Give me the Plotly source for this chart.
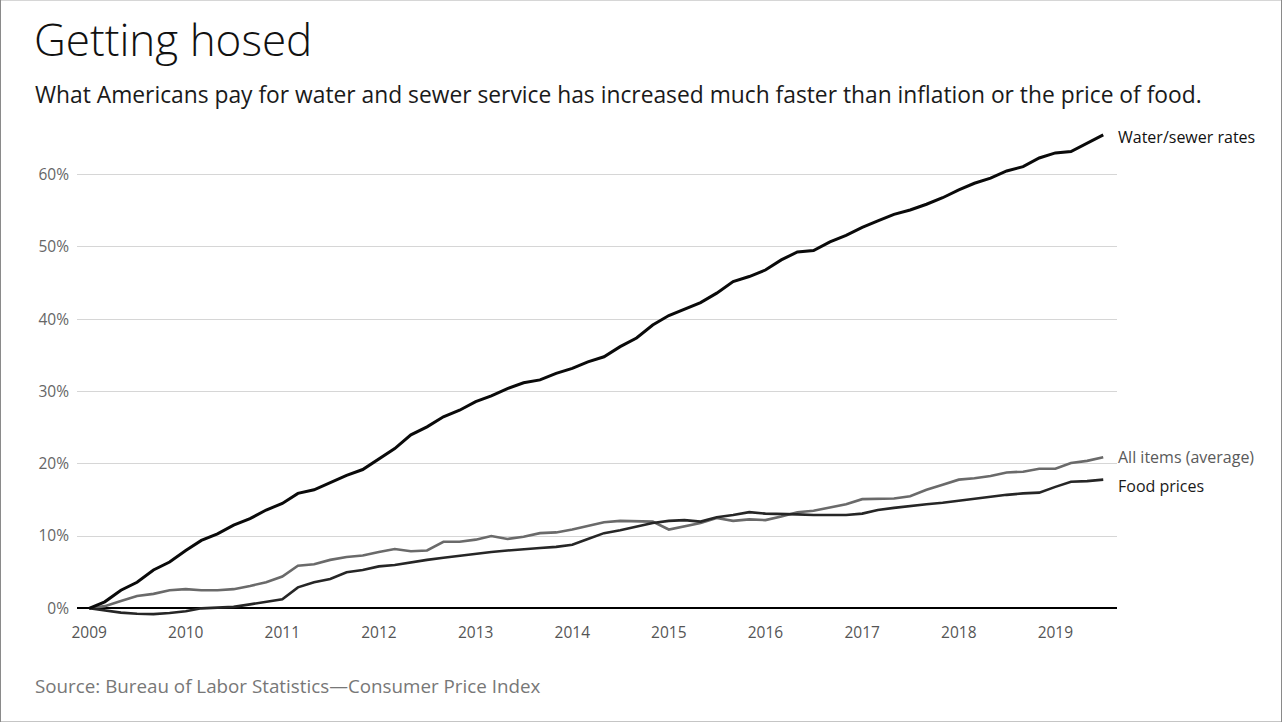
import plotly.graph_objects as go

# ---- data (bimonthly readings, % change since Jan 2009) ----
dates = [f"{y}-{m:02d}-01" for y in range(2009, 2020) for m in (1, 3, 5, 7, 9, 11)]
dates = [d for d in dates if d <= "2019-07-01"]

water_sewer = [0.0, 0.9, 2.5, 3.6, 5.3, 6.4, 8.0, 9.4, 10.3, 11.5, 12.4, 13.6,
               14.5, 15.9, 16.4, 17.4, 18.4, 19.2, 20.7, 22.1, 24.0, 25.1, 26.5, 27.4,
               28.6, 29.4, 30.4, 31.2, 31.6, 32.5, 33.2, 34.1, 34.8, 36.2, 37.4, 39.2,
               40.5, 41.4, 42.3, 43.6, 45.2, 45.9, 46.8, 48.2, 49.3, 49.5, 50.7, 51.6,
               52.7, 53.6, 54.5, 55.1, 55.9, 56.8, 57.9, 58.8, 59.5, 60.5, 61.1, 62.3,
               63.0, 63.2, 64.3, 65.5]
all_items = [0.0, 0.3, 1.0, 1.7, 2.0, 2.5, 2.65, 2.5, 2.5, 2.65, 3.1, 3.6,
             4.4, 5.9, 6.1, 6.7, 7.1, 7.3, 7.8, 8.2, 7.9, 8.0, 9.2, 9.2,
             9.5, 10.0, 9.6, 9.9, 10.4, 10.5, 10.9, 11.4, 11.9, 12.1, 12.1, 12.0,
             10.9, 11.3, 11.8, 12.5, 12.1, 12.3, 12.2, 12.7, 13.3, 13.5, 14.0, 14.4,
             15.1, 15.2, 15.2, 15.5, 16.4, 17.1, 17.8, 18.0, 18.3, 18.8, 18.9, 19.3,
             19.3, 20.1, 20.4, 20.9]
food = [0.0, -0.3, -0.6, -0.75, -0.8, -0.65, -0.4, 0.0, 0.1, 0.2, 0.55, 0.9,
        1.25, 2.9, 3.6, 4.05, 5.0, 5.3, 5.8, 6.0, 6.4, 6.7, 7.0, 7.3,
        7.6, 7.8, 8.0, 8.2, 8.35, 8.5, 8.8, 9.6, 10.4, 10.8, 11.3, 11.8,
        12.1, 12.2, 12.0, 12.6, 12.9, 13.3, 13.1, 13.1, 13.0, 12.9, 12.9, 12.9,
        13.1, 13.6, 13.9, 14.2, 14.4, 14.6, 14.9, 15.1, 15.5, 15.7, 15.9, 16.0,
        16.8, 17.5, 17.6, 17.8]

series_names = ["Water/sewer rates", "All items (average)", "Food prices"]
y_ticks = [0, 10, 20, 30, 40, 50, 60]
y_tick_labels = [f"{v}%" for v in y_ticks]
x_ticks = [f"{y}-01-01" for y in range(2009, 2020)]
x_tick_labels = [str(y) for y in range(2009, 2020)]

title = "Getting hosed"
subtitle = ("What Americans pay for water and sewer service has increased much faster "
            "than inflation or the price of food.")
source = "Source: Bureau of Labor Statistics\u2014Consumer Price Index"

# ---- layout geometry (pixels) ----
W, H = 1282, 722
L, R = 77, 1117
Y_MIN, Y_MAX = -1.2, 67.0
PX_PER_PCT = 7.217
ZERO_Y = 608
TOP = ZERO_Y - Y_MAX * PX_PER_PCT
BOT = ZERO_Y - Y_MIN * PX_PER_PCT


def px(x):
    return (x - L) / (R - L)


def py(y):
    return (BOT - y) / (BOT - TOP)


FONT = "'Open Sans', Lato, sans-serif"

fig = go.Figure()
fig.add_trace(go.Scatter(x=dates, y=all_items, mode="lines", name=series_names[1],
                         line=dict(color="#6a6a6a", width=2.6), hoverinfo="skip"))
fig.add_trace(go.Scatter(x=dates, y=food, mode="lines", name=series_names[2],
                         line=dict(color="#262626", width=2.6), hoverinfo="skip"))
fig.add_trace(go.Scatter(x=dates, y=water_sewer, mode="lines", name=series_names[0],
                         line=dict(color="#0a0a0a", width=3), hoverinfo="skip"))

annotations = [
    dict(text=title, x=px(32), y=py(40), xref="paper", yref="paper",
         xanchor="left", yanchor="middle", showarrow=False,
         font=dict(family=FONT, size=44, color="#111", weight=300)),
    dict(text=subtitle, x=px(33), y=py(95), xref="paper", yref="paper",
         xanchor="left", yanchor="middle", showarrow=False,
         font=dict(family=FONT, size=22.8, color="#1a1a1a")),
    dict(text=source, x=px(33), y=py(686), xref="paper", yref="paper",
         xanchor="left", yanchor="middle", showarrow=False,
         font=dict(family=FONT, size=18.8, color="#777")),
    dict(text=series_names[0], x=px(1116), y=water_sewer[-1] - 0.3, xref="paper", yref="y",
         xanchor="left", yanchor="middle", showarrow=False,
         font=dict(family=FONT, size=16, color="#111")),
    dict(text=series_names[1], x=px(1116), y=all_items[-1], xref="paper", yref="y",
         xanchor="left", yanchor="middle", showarrow=False,
         font=dict(family=FONT, size=16, color="#5a5a5a")),
    dict(text=series_names[2], x=px(1116), y=food[-1] - 0.9, xref="paper", yref="y",
         xanchor="left", yanchor="middle", showarrow=False,
         font=dict(family=FONT, size=16, color="#1a1a1a")),
]

shapes = [
    # page border
    dict(type="rect", xref="paper", yref="paper",
         x0=px(0.5), x1=px(W - 0.5), y0=py(0.5), y1=py(H - 0.5),
         line=dict(color="#8a8a8a", width=1), fillcolor="rgba(0,0,0,0)", layer="below"),
]

fig.update_layout(
    width=W, height=H,
    margin=dict(l=L, r=W - R, t=TOP, b=H - BOT, autoexpand=False),
    paper_bgcolor="white", plot_bgcolor="white",
    showlegend=False,
    annotations=annotations,
    shapes=shapes,
    font=dict(family=FONT, color="#666"),
    xaxis=dict(range=["2008-11-16", "2019-08-22"], tickvals=x_ticks, ticktext=x_tick_labels,
               showgrid=False, zeroline=False, showline=False,
               ticks="outside", ticklen=1, tickcolor="rgba(0,0,0,0)",
               tickfont=dict(family=FONT, size=15.5, color="#555")),
    yaxis=dict(range=[Y_MIN, Y_MAX], tickvals=y_ticks, ticktext=y_tick_labels,
               showgrid=True, gridcolor="#d6d6d6", gridwidth=1,
               zeroline=True, zerolinecolor="#000", zerolinewidth=2,
               showline=False, ticks="", ticklabelstandoff=7,
               tickfont=dict(family=FONT, size=15.5, color="#666")),
)

fig.write_html("out.html")
